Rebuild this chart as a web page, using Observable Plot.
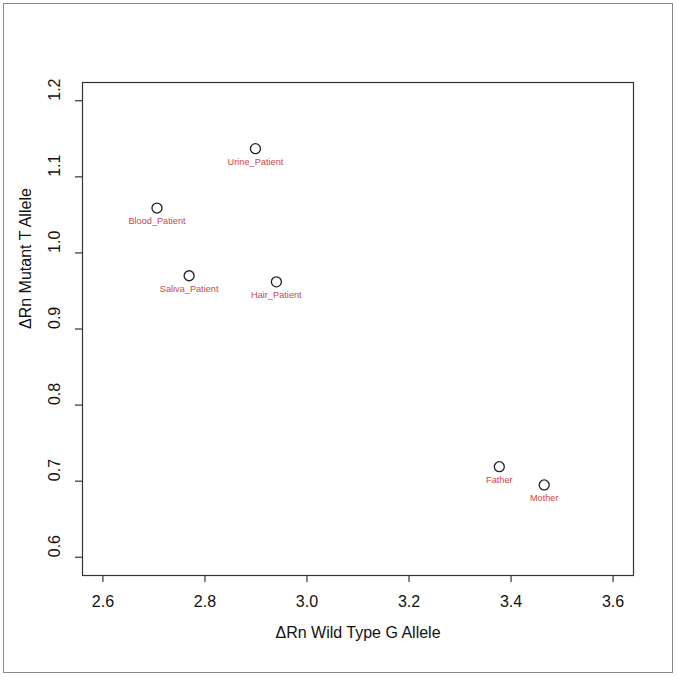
<!DOCTYPE html>
<html>
<head>
<meta charset="utf-8">
<script src="https://cdn.jsdelivr.net/npm/d3@7"></script>
<script src="https://cdn.jsdelivr.net/npm/@observablehq/plot@0.6"></script>
<style>
  html, body { margin: 0; padding: 0; background: #fff; }
  #wrap { position: relative; width: 677px; height: 677px; }
  #border { position: absolute; left: 3px; top: 3px; width: 668px; height: 668px; border: 1.5px solid #8a8a8a; pointer-events: none; }
</style>
</head>
<body>
<div id="wrap"><div id="border"></div></div>
<script>
const samples = ["Blood_Patient", "Urine_Patient", "Saliva_Patient", "Hair_Patient", "Father", "Mother"];
const wildTypeG = [2.706, 2.899, 2.769, 2.940, 3.377, 3.465];
const mutantT = [1.059, 1.137, 0.970, 0.962, 0.719, 0.695];
const xTicks = [2.6, 2.8, 3.0, 3.2, 3.4, 3.6];
const yTicks = [0.6, 0.7, 0.8, 0.9, 1.0, 1.1, 1.2];
const xTitle = "\u0394Rn Wild Type G Allele";
const yTitle = "\u0394Rn Mutant T Allele";

const data = samples.map((s, i) => ({sample: s, x: wildTypeG[i], y: mutantT[i]}));
const font = "Liberation Sans, Arial, Helvetica, sans-serif";

const chart = Plot.plot({
  width: 677,
  height: 677,
  marginLeft: 82,
  marginRight: 44,
  marginTop: 82,
  marginBottom: 102,
  style: {fontFamily: font, background: "transparent"},
  x: {domain: [2.56, 3.64], axis: null},
  y: {domain: [0.576, 1.224], axis: null},
  marks: [
    Plot.frame({stroke: "#333", strokeWidth: 1.2}),
    // tick marks
    Plot.axisX({ticks: xTicks, tickSize: 7, tickFormat: () => "", label: null, stroke: "#333", strokeWidth: 1.2}),
    Plot.axisY({ticks: yTicks, tickSize: 7, tickFormat: () => "", label: null, stroke: "#333", strokeWidth: 1.2}),
    // tick labels
    Plot.text(xTicks, {x: d => d, frameAnchor: "bottom", dy: 31, text: d => d.toFixed(1), fontSize: 16, fill: "#111"}),
    Plot.text(yTicks, {y: d => d, frameAnchor: "left", dx: -28, rotate: -90, text: d => d.toFixed(1), fontSize: 16, fill: "#111"}),
    // titles
    Plot.text([xTitle], {frameAnchor: "bottom", dy: 62, text: d => d, fontSize: 16, fill: "#111"}),
    Plot.text([yTitle], {frameAnchor: "left", dx: -57, rotate: -90, text: d => d, fontSize: 16, fill: "#111"}),
    // points
    Plot.dot(data, {x: "x", y: "y", r: 5, stroke: "#222", strokeWidth: 1.3, fill: "none"}),
    Plot.text(data, {x: "x", y: "y", text: "sample", dy: 13, fontSize: 9.2, fill: "#d04545"})
  ]
});
document.getElementById("wrap").appendChild(chart);
</script>
</body>
</html>
